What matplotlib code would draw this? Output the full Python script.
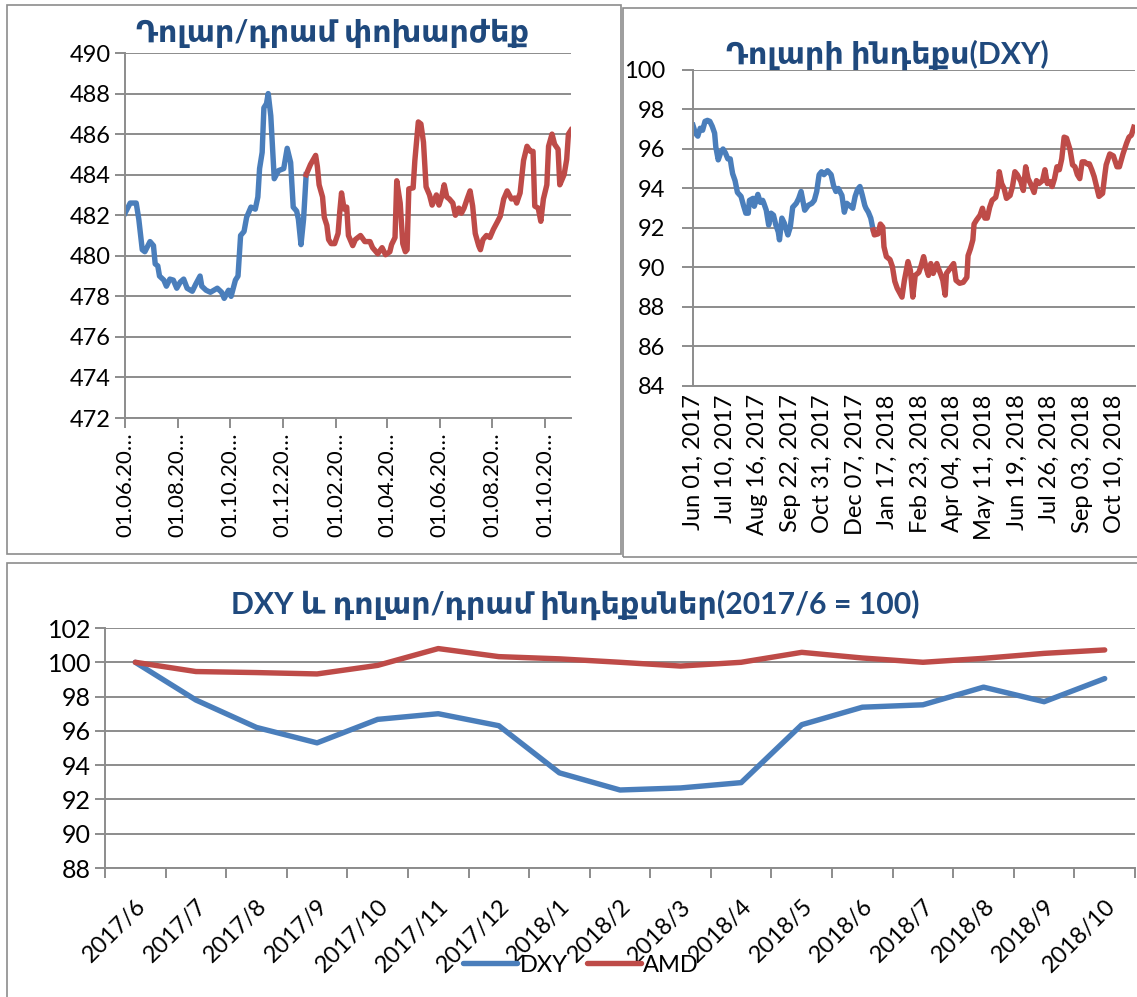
import matplotlib
matplotlib.use("Agg")
import matplotlib.pyplot as plt
from matplotlib.patches import Rectangle
import pandas as pd

# --- USD/AMD exchange rate (daily) ---
rate_dates = [
    "2017-06-01", "2017-06-07", "2017-06-14", "2017-06-17", "2017-06-21", "2017-06-24", "2017-06-30",
    "2017-07-04", "2017-07-06", "2017-07-09", "2017-07-11", "2017-07-16", "2017-07-19", "2017-07-23",
    "2017-07-27", "2017-07-31",
    "2017-08-04", "2017-08-08", "2017-08-12", "2017-08-18", "2017-08-22", "2017-08-27", "2017-08-29",
    "2017-09-03", "2017-09-08", "2017-09-16", "2017-09-21", "2017-09-24", "2017-09-29",
    "2017-10-02", "2017-10-07", "2017-10-10", "2017-10-13", "2017-10-17", "2017-10-20", "2017-10-25",
    "2017-10-30",
    "2017-11-02", "2017-11-04", "2017-11-07", "2017-11-09", "2017-11-12", "2017-11-14", "2017-11-17",
    "2017-11-21", "2017-11-26",
    "2017-12-02", "2017-12-06", "2017-12-10", "2017-12-13", "2017-12-17", "2017-12-19", "2017-12-22",
    "2017-12-25", "2017-12-28",
    "2018-01-02", "2018-01-08", "2018-01-10", "2018-01-12", "2018-01-16", "2018-01-18", "2018-01-21",
    "2018-01-23", "2018-01-26", "2018-01-30",
    "2018-02-03", "2018-02-05", "2018-02-07", "2018-02-10", "2018-02-13", "2018-02-15", "2018-02-20",
    "2018-02-23",
    "2018-03-01", "2018-03-06", "2018-03-12", "2018-03-15", "2018-03-21", "2018-03-26", "2018-03-30",
    "2018-04-04", "2018-04-06", "2018-04-10", "2018-04-12", "2018-04-16", "2018-04-19", "2018-04-22",
    "2018-04-24", "2018-04-26",
    "2018-05-01", "2018-05-03", "2018-05-07", "2018-05-10", "2018-05-13", "2018-05-16", "2018-05-20",
    "2018-05-23", "2018-05-28", "2018-05-31",
    "2018-06-03", "2018-06-06", "2018-06-09", "2018-06-12", "2018-06-16", "2018-06-19", "2018-06-23",
    "2018-06-26", "2018-06-29",
    "2018-07-03", "2018-07-06", "2018-07-09", "2018-07-12", "2018-07-16", "2018-07-18", "2018-07-21",
    "2018-07-25", "2018-07-29",
    "2018-08-02", "2018-08-07", "2018-08-10", "2018-08-14", "2018-08-18", "2018-08-23", "2018-08-27",
    "2018-08-29",
    "2018-09-02", "2018-09-06", "2018-09-10", "2018-09-14", "2018-09-17", "2018-09-19", "2018-09-23",
    "2018-09-26", "2018-09-29",
    "2018-10-03", "2018-10-05", "2018-10-09", "2018-10-12", "2018-10-16", "2018-10-18", "2018-10-23",
    "2018-10-26", "2018-10-28", "2018-10-31",
]
rate_values = [
    482.1, 482.6, 482.6, 481.8, 480.3, 480.2, 480.7,
    480.5, 479.6, 479.5, 479.0, 478.8, 478.5, 478.85, 478.8, 478.4,
    478.7, 478.85, 478.4, 478.25, 478.6, 479.0, 478.5,
    478.3, 478.2, 478.4, 478.2, 477.9, 478.3,
    478.0, 478.8, 479.0, 481.0, 481.2, 481.9, 482.4, 482.3,
    482.9, 484.3, 485.1, 487.3, 487.5, 488.0, 486.9, 483.8, 484.2,
    484.3, 485.3, 484.6, 482.4, 482.2, 481.8, 480.55, 481.8, 484.0,
    484.5, 484.95, 484.4, 483.5, 482.9, 481.9, 481.5, 480.8, 480.6, 480.6,
    481.1, 482.2, 483.1, 482.3, 482.4, 481.0, 480.5, 480.8,
    481.0, 480.7, 480.7, 480.4, 480.1, 480.4, 480.05,
    480.2, 480.55, 480.9, 483.7, 482.6, 480.6, 480.2, 480.3, 483.3,
    483.35, 484.7, 486.6, 486.5, 485.6, 483.4, 483.0, 482.5, 483.0, 482.5,
    482.9, 483.5, 482.9, 482.8, 482.6, 482.0, 482.35, 482.1, 482.35,
    482.85, 483.2, 482.45, 481.1, 480.5, 480.3, 480.8, 481.0, 480.9,
    481.3, 481.7, 481.95, 482.8, 483.2, 482.8, 482.85, 482.6,
    483.1, 484.7, 485.4, 485.15, 485.15, 482.45, 482.35, 481.7, 482.8,
    483.5, 485.4, 486.0, 485.5, 485.25, 483.5, 484.0, 484.75, 486.0, 486.2,
]
rate_ticks = ["2017-06-01", "2017-08-01", "2017-10-01", "2017-12-01", "2018-02-01",
              "2018-04-01", "2018-06-01", "2018-08-01", "2018-10-01"]

# --- Dollar index DXY (trading-day number, value) ---
dxy_obs = [
    0, 2, 4, 6, 8, 10, 12, 14, 16, 18, 19, 21, 23, 25, 27, 29, 31, 32, 33, 35, 37, 40, 42, 44, 46, 47,
    50, 51, 54, 56, 58, 59, 61, 63, 65, 67, 69, 71, 72, 74, 76, 79, 81, 83, 86, 88, 90, 93, 96, 99,
    101, 103, 105, 107, 109, 112, 115, 117, 119, 121, 124, 126, 128, 131, 133, 135, 137, 139, 141,
    143, 144, 146, 148, 150,
    151, 154, 156, 158, 159, 161, 164, 166, 168, 170, 174, 176, 179, 181, 183, 185, 188, 190, 192,
    194, 196, 198, 200, 203, 204, 206, 208, 210, 211, 214, 217, 219, 222, 225, 228, 229, 231, 233,
    234, 236, 239, 241, 243, 245, 247, 249, 252, 254, 255, 257, 259, 261, 264, 266, 268, 270, 273,
    275, 277, 279, 281, 284, 286, 288, 291, 293, 295, 297, 299, 301, 303, 305, 307, 309, 311, 314,
    316, 318, 320, 322, 324, 326, 328, 330, 332, 334, 336, 338, 341, 343, 344, 347, 350, 353, 355,
    358, 361, 363, 365, 367,
]
dxy_val = [
    97.2, 96.8, 96.65, 97.05, 96.95, 97.4, 97.45, 97.4, 97.15, 96.8, 96.1, 95.45, 95.8, 96.0, 95.8,
    95.5, 95.5, 95.1, 94.75, 94.4, 93.8, 93.6, 93.15, 92.75, 92.75, 93.4,
    93.5, 93.1, 93.7, 93.3, 93.4, 93.25, 92.9, 92.15, 92.75, 92.65, 92.15, 91.8, 91.4, 92.5, 92.25,
    91.65, 92.05, 93.05, 93.25, 93.5, 93.85, 92.9, 93.15, 93.25,
    93.4, 93.85, 94.7, 94.85, 94.7, 94.9, 94.7, 94.15, 93.85, 94.0, 93.65, 92.8, 93.25, 93.1, 93.0,
    93.6, 93.95, 94.1, 93.65, 93.15, 93.0, 92.8, 92.5, 91.9,
    91.65, 91.7, 92.2, 92.05, 91.05, 90.55, 90.4, 90.05, 89.3, 88.95, 88.5, 89.35, 90.3, 89.85,
    88.5, 89.6, 89.75, 90.1, 90.55,
    90.0, 89.6, 90.2, 89.7, 90.2, 90.0, 89.7, 89.35, 88.6, 89.7, 89.95, 90.2, 89.35, 89.2, 89.25,
    89.5, 90.6, 90.95, 91.4,
    92.2, 92.4, 92.65, 93.0, 92.5, 92.5, 93.05, 93.4, 93.55, 94.1, 94.85, 94.25, 94.0, 93.5, 93.65,
    94.1, 94.85, 94.7, 94.35,
    93.9, 95.1, 94.5, 94.25, 93.8, 94.4, 94.25, 94.4, 94.95, 94.25, 94.35, 94.1, 94.5, 95.1, 94.95,
    95.5, 96.6, 96.55, 95.95,
    95.2, 95.1, 94.7, 94.5, 95.35, 95.35, 95.25, 95.25, 94.95, 94.6, 94.1, 93.6, 93.75, 94.75, 95.2,
    95.75, 95.65, 95.1, 95.1,
    95.75, 96.3, 96.6, 96.7, 97.1,
]
dxy_last_2017 = 150
dxy_tick_labels = ["Jun 01, 2017", "Jul 10, 2017", "Aug 16, 2017", "Sep 22, 2017", "Oct 31, 2017",
                   "Dec 07, 2017", "Jan 17, 2018", "Feb 23, 2018", "Apr 04, 2018", "May 11, 2018",
                   "Jun 19, 2018", "Jul 26, 2018", "Sep 03, 2018", "Oct 10, 2018"]
dxy_tick_step = 27

# --- monthly indices, 2017/6 = 100 ---
months = ["2017/6", "2017/7", "2017/8", "2017/9", "2017/10", "2017/11", "2017/12", "2018/1",
          "2018/2", "2018/3", "2018/4", "2018/5", "2018/6", "2018/7", "2018/8", "2018/9", "2018/10"]
dxy_index = [100.0, 97.8, 96.2, 95.3, 96.67, 97.0, 96.3, 93.55, 92.55, 92.67, 92.98, 96.36,
             97.38, 97.52, 98.55, 97.7, 99.05]
amd_index = [100.0, 99.46, 99.4, 99.32, 99.82, 100.8, 100.33, 100.2, 100.0, 99.78, 100.0, 100.58,
             100.25, 100.0, 100.23, 100.52, 100.72]

BLUE = "#4A7EBB"
RED = "#BE4B48"
GRID = "#8C8C8C"
TITLE = "#1F497D"
FONT = ["Lato", "DejaVu Sans"]
LW = 3.9

plt.rcParams["font.family"] = FONT

W, H = 1137, 997
fig = plt.figure(figsize=(W / 100, H / 100), dpi=100)


def box(x0, y0, x1, y1):
    return [x0 / W, 1 - y1 / H, (x1 - x0) / W, (y1 - y0) / H]


def frame(x0, y0, x1, y1):
    b = box(x0, y0, x1, y1)
    fig.patches.append(Rectangle((b[0], b[1]), b[2], b[3], transform=fig.transFigure,
                                 fill=False, edgecolor=GRID, linewidth=1.2))


def style(ax):
    for s in ["top", "right"]:
        ax.spines[s].set_visible(False)
    for s in ["left", "bottom"]:
        ax.spines[s].set_color(GRID)
        ax.spines[s].set_linewidth(1.4)
    ax.grid(axis="y", color=GRID, linewidth=1.4)
    ax.set_axisbelow(True)
    ax.tick_params(axis="y", length=7, width=1.4, color=GRID, labelsize=17, pad=3)
    ax.tick_params(axis="x", width=1.4, color=GRID, labelsize=16)


frame(7, 5, 621, 554)
frame(623, 8, 1145, 557)
frame(7, 563, 1145, 1005)

# top-left: exchange rate
dates = pd.to_datetime(rate_dates)
vals = pd.Series(rate_values, index=dates)
last17 = vals[vals.index < "2018-01-01"]
from18 = vals[vals.index >= last17.index[-1]]

ax1 = fig.add_axes(box(125, 53, 571, 418))
ax1.plot(last17.index, last17.values, color=BLUE, linewidth=LW, solid_joinstyle="round")
ax1.plot(from18.index, from18.values, color=RED, linewidth=LW, solid_joinstyle="round")
ax1.set_ylim(472, 490)
ax1.set_yticks(range(472, 491, 2))
ax1.set_xlim(pd.Timestamp("2017-06-01"), pd.Timestamp("2018-10-31"))
tick_dates = pd.to_datetime(rate_ticks)
ax1.set_xticks(tick_dates)
ax1.set_xticklabels([d.strftime("%d.%m.20") + "…" for d in tick_dates], rotation=90)
style(ax1)
ax1.tick_params(axis="x", length=7, labelsize=16)
fig.text(332 / W, 1 - 33 / H, "Դոլար/դրամ փոխարժեք", ha="center", va="center",
         fontsize=21.7, fontweight="bold", color=TITLE, family=FONT)

# top-right: DXY
ax2 = fig.add_axes(box(693, 70, 1135, 386))
b_x = [o for o in dxy_obs if o <= dxy_last_2017]
b_y = dxy_val[:len(b_x)]
r_x = dxy_obs[len(b_x) - 1:]
r_y = dxy_val[len(b_x) - 1:]
ax2.plot(b_x, b_y, color=BLUE, linewidth=LW, solid_joinstyle="round")
ax2.plot(r_x, r_y, color=RED, linewidth=LW, solid_joinstyle="round")
ax2.set_ylim(84, 100)
ax2.set_yticks(range(84, 101, 2))
ax2.set_xlim(0, 368)
ax2.set_xticks([i * dxy_tick_step for i in range(len(dxy_tick_labels))])
ax2.set_xticklabels(dxy_tick_labels, rotation=90)
style(ax2)
ax2.tick_params(axis="y", length=8, pad=12)
ax2.tick_params(axis="x", length=0, labelsize=17, pad=6)
fig.text(887 / W, 1 - 55 / H, "Դոլարի ինդեքս(DXY)", ha="center", va="center",
         fontsize=21.7, fontweight="bold", color=TITLE, family=FONT)

# bottom: indices
ax3 = fig.add_axes(box(105, 628, 1135, 868))
pos = list(range(len(months)))
l1, = ax3.plot(pos, dxy_index, color=BLUE, linewidth=LW, solid_capstyle="round", label="DXY")
l2, = ax3.plot(pos, amd_index, color=RED, linewidth=LW, solid_capstyle="round", label="AMD")
ax3.set_ylim(88, 102)
ax3.set_yticks(range(88, 103, 2))
ax3.set_xlim(-0.5, len(months) - 0.5)
ax3.set_xticks(pos)
ax3.set_xticklabels(months, rotation=45, ha="right", va="top", rotation_mode="anchor")
ax3.set_xticks([p - 0.5 for p in pos] + [len(months) - 0.5], minor=True)
style(ax3)
ax3.tick_params(axis="y", labelsize=18)
ax3.tick_params(axis="x", which="major", length=0, labelsize=17, pad=20)
ax3.tick_params(axis="x", which="minor", length=7, width=1.4, color=GRID)
fig.text(575 / W, 1 - 605 / H, "DXY և դոլար/դրամ ինդեքսներ(2017/6 = 100)", ha="center",
         va="center", fontsize=21.7, fontweight="bold", color=TITLE, family=FONT)
fig.legend(handles=[l1, l2], loc="center", bbox_to_anchor=(581 / W, 1 - 965 / H), ncol=2,
           frameon=False, fontsize=17, handlelength=2.3, handletextpad=0.1, columnspacing=0.8)

fig.savefig("out.png", dpi=100)
